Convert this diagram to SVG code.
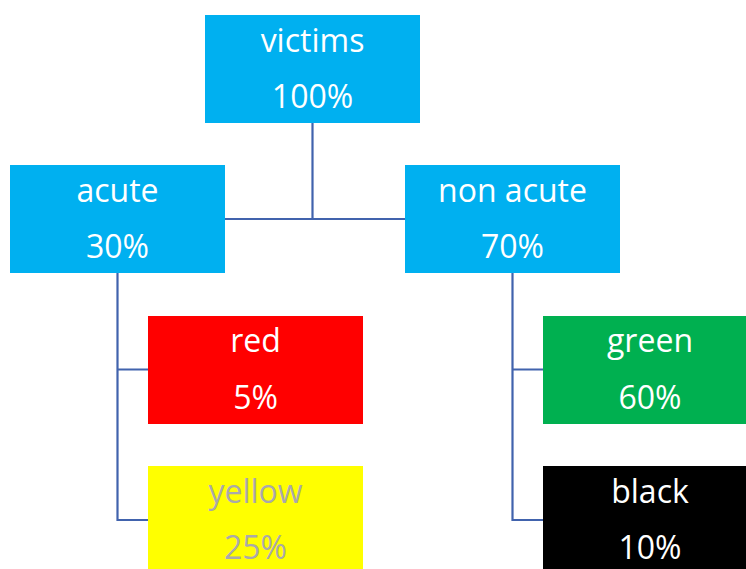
<svg xmlns="http://www.w3.org/2000/svg" width="746" height="569" viewBox="0 0 746 569">
  <style>
    .lbl { font-family: "Open Sans", "Liberation Sans", sans-serif; font-size: 32px; text-anchor: middle; fill: #ffffff; }
    .lbl.dim { fill: #aaa9aa; }
    .link { fill: none; stroke: #4163ad; stroke-width: 2.2; }
    .sky { fill: #00b0f0; }
  </style>
  <rect width="746" height="569" fill="#ffffff"/>

  <g id="connectors">
    <path class="link" d="M312.5 123 V219 M225 219 H405"/>
    <path class="link" d="M117.5 273 V520 H148 M117.5 369.5 H148"/>
    <path class="link" d="M512.5 273 V520 H543 M512.5 369.5 H543"/>
  </g>

  <g id="victims">
    <rect class="sky" x="205" y="15" width="215" height="108"/>
    <text class="lbl" x="312.5" y="52">victims</text>
    <text class="lbl" x="312.5" y="108">100%</text>
  </g>

  <g id="acute">
    <rect class="sky" x="10" y="165" width="215" height="108"/>
    <text class="lbl" x="117.5" y="202">acute</text>
    <text class="lbl" x="117.5" y="258">30%</text>
  </g>

  <g id="non-acute">
    <rect class="sky" x="405" y="165" width="215" height="108"/>
    <text class="lbl" x="512.5" y="202">non acute</text>
    <text class="lbl" x="512.5" y="258">70%</text>
  </g>

  <g id="red">
    <rect x="148" y="316" width="215" height="108" fill="#ff0000"/>
    <text class="lbl" x="255.5" y="352">red</text>
    <text class="lbl" x="255.5" y="409">5%</text>
  </g>

  <g id="yellow">
    <rect x="148" y="466" width="215" height="108" fill="#ffff00"/>
    <text class="lbl dim" x="255.5" y="503">yellow</text>
    <text class="lbl dim" x="255.5" y="559">25%</text>
  </g>

  <g id="green">
    <rect x="543" y="316" width="215" height="108" fill="#00b050"/>
    <text class="lbl" x="650" y="352">green</text>
    <text class="lbl" x="650" y="409">60%</text>
  </g>

  <g id="black">
    <rect x="543" y="466" width="215" height="108" fill="#000000"/>
    <text class="lbl" x="650" y="503">black</text>
    <text class="lbl" x="650" y="559">10%</text>
  </g>
</svg>
